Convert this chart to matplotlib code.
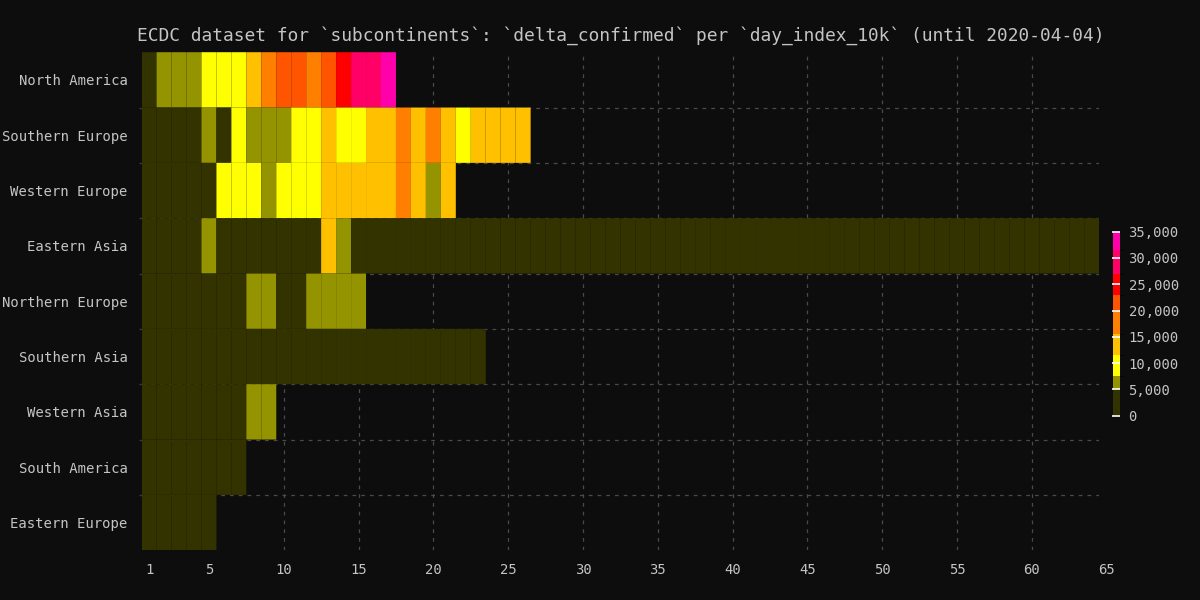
import numpy as np
import matplotlib
matplotlib.use('Agg')
import matplotlib.pyplot as plt
from matplotlib.colors import ListedColormap, BoundaryNorm
from matplotlib.ticker import FuncFormatter

plt.rcParams['font.family'] = ['DejaVu Sans Mono']

# rows, top to bottom
regions = ['North America', 'Southern Europe', 'Western Europe', 'Eastern Asia',
           'Northern Europe', 'Southern Asia', 'Western Asia', 'South America',
           'Eastern Europe']

# delta_confirmed per day_index_10k
north_america = [1200, 6000, 6500, 7000, 8500, 9800, 10500, 13500, 17500, 21000,
                 21500, 18500, 22000, 25500, 29000, 30500, 33000]
southern_europe = [3000, 3500, 3800, 4200, 5500, 4500, 9000, 6000, 6500, 6800,
                   9500, 10500, 12500, 10000, 11000, 13000, 13500, 16500, 14000, 16000,
                   13000, 11000, 12500, 12000, 12800, 12300]
western_europe = [1500, 2500, 3000, 3500, 4500, 8500, 9000, 9500, 7000, 10000,
                  10500, 11000, 12500, 13000, 13500, 14000, 14500, 16500, 13000, 7000,
                  12000]
eastern_asia = [2500, 3000, 3500, 3700, 5500, 3700, 3200, 2700, 3000, 2500,
                2100, 2000, 15100, 5600, 2600, 2100, 2000, 1900, 1700, 400,
                900, 600, 400, 500, 450, 300, 250, 200, 150, 120,
                100, 110, 90, 80, 70, 60, 50, 60, 70, 80,
                90, 100, 110, 120, 100, 90, 80, 70, 60, 50,
                60, 70, 80, 90, 100, 110, 120, 130, 100, 90,
                80, 70, 60, 50]
northern_europe = [500, 900, 1200, 1800, 2500, 3000, 4000, 5600, 5800, 4600,
                   4800, 5600, 6000, 6300, 6500]
southern_asia = [300, 400, 500, 600, 700, 800, 900, 1000, 1100, 1200,
                 1300, 1400, 1500, 1600, 1700, 1800, 1900, 2000, 2200, 2400,
                 2600, 2800, 3000]
western_asia = [1000, 1500, 2000, 2500, 3000, 3500, 4000, 5600, 5900]
south_america = [1200, 1500, 2000, 2500, 3000, 3500, 4000]
eastern_europe = [1000, 1500, 2000, 2500, 3000]

rows = [north_america, southern_europe, western_europe, eastern_asia, northern_europe,
        southern_asia, western_asia, south_america, eastern_europe]

x_ticks = [1, 5, 10, 15, 20, 25, 30, 35, 40, 45, 50, 55, 60, 65]
cbar_ticks = [0, 5000, 10000, 15000, 20000, 25000, 30000, 35000]

# colour levels
level_bounds = [0, 5000, 7500, 11500, 15500, 20000, 23000, 27000, 31500, 35000]
level_colors = ['#333300', '#949400', '#ffff00', '#ffc000', '#ff8000',
                '#ff5500', '#ff0000', '#ff0066', '#ff00aa']

bg = '#0d0d0d'
fg = '#c4c4c4'
grid_c = '#4a4a4a'

n_days = max(len(r) for r in rows)
z = np.full((len(rows), n_days), np.nan)
for i, r in enumerate(rows):
    z[i, :len(r)] = r

cmap = ListedColormap(level_colors)
norm = BoundaryNorm(level_bounds, cmap.N)

fig = plt.figure(figsize=(12, 6), dpi=100, facecolor=bg)
ax = fig.add_axes([0.118, 0.083, 0.798, 0.83], facecolor=bg)

x_edges = np.arange(0.5, n_days + 1, 1)
y_edges = np.arange(-0.5, len(rows), 1)
# pcolor skips masked cells; antialiasing leaves faint seams between cells
mesh = ax.pcolor(x_edges, y_edges, np.ma.masked_invalid(z), cmap=cmap, norm=norm,
                 edgecolors='none', antialiased=True, zorder=2)

ax.set_xlim(0.5, n_days + 0.5)
ax.set_ylim(len(rows) - 0.5, -0.5)

ax.set_xticks([t for t in x_ticks if t <= n_days])
ax.set_yticks(range(len(rows)))
ax.set_yticklabels(regions)
ax.set_yticks(np.arange(0.5, len(rows) - 1, 1), minor=True)
ax.tick_params(axis='x', length=0, pad=9, colors=fg, labelsize=10)
ax.tick_params(axis='y', which='major', length=0, pad=10, colors=fg, labelsize=10)
ax.tick_params(axis='y', which='minor', length=2, width=1, color='#3a3a3a')
# last tick label sits just past the axis edge
for t in x_ticks:
    if t > n_days:
        ax.annotate(str(t), xy=(t, 0), xycoords=('data', 'axes fraction'),
                    xytext=(0, -9), textcoords='offset points',
                    ha='center', va='top', color=fg, fontsize=10, annotation_clip=False)

ax.set_axisbelow(True)
ax.grid(axis='x', which='major', color=grid_c, linestyle=(0, (3, 4)), linewidth=0.9)
ax.grid(axis='y', which='minor', color=grid_c, linestyle=(0, (3, 4)), linewidth=0.9)
for s in ax.spines.values():
    s.set_visible(False)

ax.set_title('ECDC dataset for `subcontinents`: `delta_confirmed` per `day_index_10k` (until 2020-04-04)',
             color=fg, fontsize=12.9, pad=8)

cax = fig.add_axes([0.9275, 0.307, 0.006, 0.307])
cbar = fig.colorbar(mesh, cax=cax, ticks=cbar_ticks, spacing='proportional')
cbar.outline.set_visible(False)
cbar.ax.yaxis.set_major_formatter(FuncFormatter(lambda v, p: f'{int(v):,}'))
cbar.ax.tick_params(direction='in', length=5.5, width=1.2, color='white',
                    labelcolor=fg, labelsize=10, pad=6)

plt.savefig('out.png', dpi=100, facecolor=bg)
